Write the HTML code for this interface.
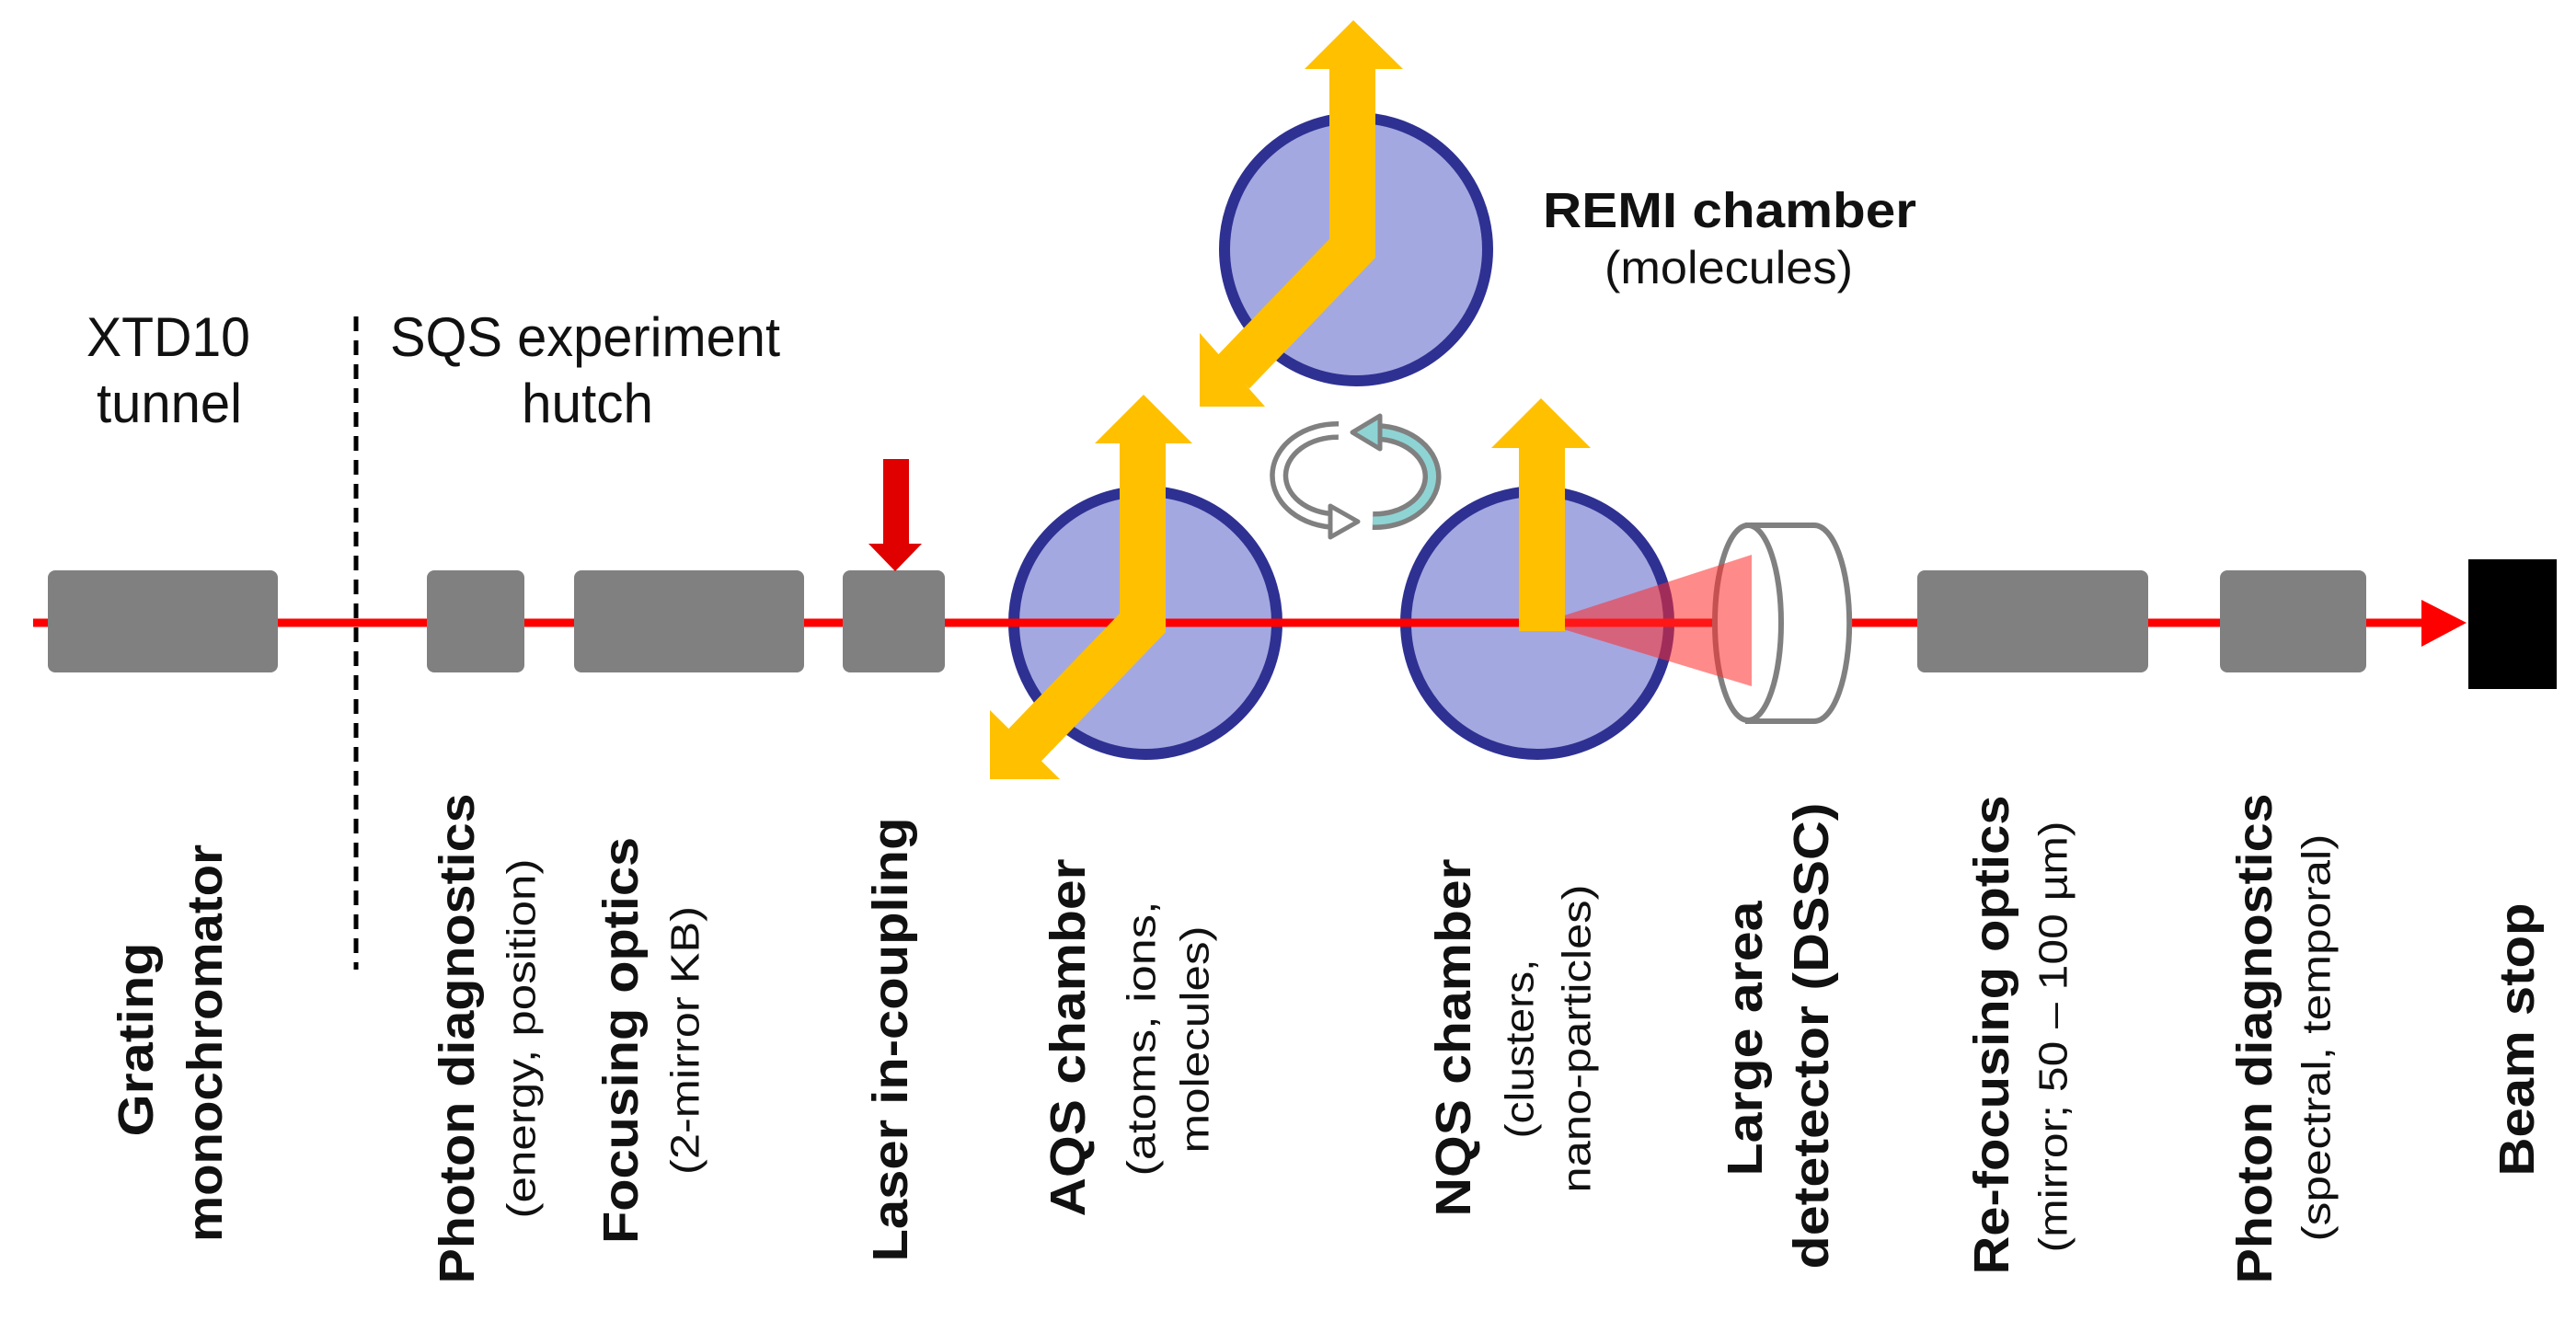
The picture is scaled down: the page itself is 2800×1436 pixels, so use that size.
<!DOCTYPE html>
<html><head><meta charset="utf-8"><style>
html,body{margin:0;padding:0;background:#fff;}
svg{display:block;}
text{font-family:"Liberation Sans",Arial,sans-serif;fill:#111;}
.b{font-weight:bold;font-size:54px;}
.r{font-size:44px;}
</style></head><body>
<svg width="2800" height="1436" viewBox="0 0 2800 1436" xmlns="http://www.w3.org/2000/svg">
<text x="94" y="387" font-size="60" textLength="178" lengthAdjust="spacingAndGlyphs">XTD10</text>
<text x="105" y="459" font-size="60" textLength="158" lengthAdjust="spacingAndGlyphs">tunnel</text>
<text x="424" y="387" font-size="60" textLength="424" lengthAdjust="spacingAndGlyphs">SQS experiment</text>
<text x="567" y="459" font-size="60" textLength="143" lengthAdjust="spacingAndGlyphs">hutch</text>
<text x="1677" y="247" font-size="54" font-weight="bold" textLength="406" lengthAdjust="spacingAndGlyphs">REMI chamber</text>
<text x="1744" y="308" font-size="50" textLength="270" lengthAdjust="spacingAndGlyphs">(molecules)</text>

<line x1="387" y1="344" x2="387" y2="1054" stroke="#000" stroke-width="5" stroke-dasharray="16 10"/>

<circle cx="1245" cy="677" r="143" fill="#a4a8e0" stroke="#2e3192" stroke-width="12"/>
<circle cx="1671" cy="677" r="143" fill="#a4a8e0" stroke="#2e3192" stroke-width="12"/>
<circle cx="1474" cy="271" r="143" fill="#a4a8e0" stroke="#2e3192" stroke-width="12"/>

<line x1="36" y1="677" x2="1866" y2="677" stroke="#ff0000" stroke-width="9"/>
<line x1="2010" y1="677" x2="2640" y2="677" stroke="#ff0000" stroke-width="9"/>
<polygon points="2632,652 2681,677 2632,703" fill="#ff0000"/>
<rect x="2683" y="608" width="96" height="141" fill="#000"/>

<g fill="#808080">
<rect x="52" y="620" width="250" height="111" rx="8"/>
<rect x="464" y="620" width="106" height="111" rx="8"/>
<rect x="624" y="620" width="250" height="111" rx="8"/>
<rect x="916" y="620" width="111" height="111" rx="8"/>
<rect x="2084" y="620" width="251" height="111" rx="8"/>
<rect x="2413" y="620" width="159" height="111" rx="8"/>
</g>

<rect x="960" y="499" width="28" height="95" fill="#e00000"/>
<polygon points="944,591 1002,591 973,621" fill="#e00000"/>

<path d="M1900,571 L1972,571 A38,106 0 0 1 1972,784 L1900,784 Z" fill="#fff" stroke="#808080" stroke-width="6"/>
<ellipse cx="1900" cy="677" rx="36" ry="106" fill="#fff" stroke="#808080" stroke-width="6"/>

<polygon points="1676,677 1904,603 1904,746" fill="#ff2a2a" fill-opacity="0.55"/>

<g fill="none" stroke="#ffc000" stroke-width="50" stroke-linejoin="miter">
<polyline points="1242,480 1242,677 1112,812"/>
<polyline points="1470,72 1470,270 1340,405"/>
<line x1="1676" y1="485" x2="1676" y2="686"/>
</g>
<g fill="#ffc000">
<polygon points="1190,482 1296,482 1243,429"/>
<polygon points="1076,772 1076,847 1152,847"/>
<polygon points="1418,75 1525,75 1471,22"/>
<polygon points="1304,362 1304,442 1375,442"/>
<polygon points="1621,487 1729,487 1675,433"/>
</g>

<g stroke-linejoin="round">
<path d="M1455,468 A62,48 0 0 0 1452,566" fill="none" stroke="#808080" stroke-width="20"/>
<path d="M1455,468 A62,48 0 0 0 1452,566" fill="none" stroke="#ffffff" stroke-width="9"/>
<polygon points="1446,550 1446,584 1476,567" fill="#fff" stroke="#808080" stroke-width="5"/>
<path d="M1492,566 A62,48 0 0 0 1497,470" fill="none" stroke="#808080" stroke-width="20"/>
<path d="M1492,566 A62,48 0 0 0 1497,470" fill="none" stroke="#8fd4d4" stroke-width="9"/>
<polygon points="1500,452 1500,488 1470,470" fill="#8fd4d4" stroke="#808080" stroke-width="5"/>
</g>

<g dominant-baseline="central" text-anchor="middle">
<text class="b" transform="translate(148,1130) rotate(-90)" textLength="211" lengthAdjust="spacingAndGlyphs">Grating</text>
<text class="b" transform="translate(223,1134) rotate(-90)" textLength="432" lengthAdjust="spacingAndGlyphs">monochromator</text>
<text class="b" transform="translate(497,1129) rotate(-90)" textLength="533" lengthAdjust="spacingAndGlyphs">Photon diagnostics</text>
<text class="r" transform="translate(567,1129) rotate(-90)" textLength="391" lengthAdjust="spacingAndGlyphs">(energy, position)</text>
<text class="b" transform="translate(675,1131) rotate(-90)" textLength="442" lengthAdjust="spacingAndGlyphs">Focusing optics</text>
<text class="r" transform="translate(745,1131) rotate(-90)" textLength="292" lengthAdjust="spacingAndGlyphs">(2-mirror KB)</text>
<text class="b" transform="translate(968,1130) rotate(-90)" textLength="483" lengthAdjust="spacingAndGlyphs">Laser in-coupling</text>
<text class="b" transform="translate(1161,1128) rotate(-90)" textLength="389" lengthAdjust="spacingAndGlyphs">AQS chamber</text>
<text class="r" transform="translate(1241,1129) rotate(-90)" textLength="299" lengthAdjust="spacingAndGlyphs">(atoms, ions,</text>
<text class="r" transform="translate(1299,1130) rotate(-90)" textLength="247" lengthAdjust="spacingAndGlyphs">molecules)</text>
<text class="b" transform="translate(1580,1128) rotate(-90)" textLength="389" lengthAdjust="spacingAndGlyphs">NQS chamber</text>
<text class="r" transform="translate(1652,1140) rotate(-90)" textLength="195" lengthAdjust="spacingAndGlyphs">(clusters,</text>
<text class="r" transform="translate(1714,1129) rotate(-90)" textLength="335" lengthAdjust="spacingAndGlyphs">nano-particles)</text>
<text class="b" transform="translate(1897,1129) rotate(-90)" textLength="299" lengthAdjust="spacingAndGlyphs">Large area</text>
<text class="b" transform="translate(1969,1126) rotate(-90)" textLength="507" lengthAdjust="spacingAndGlyphs">detetector (DSSC)</text>
<text class="b" transform="translate(2165,1125) rotate(-90)" textLength="521" lengthAdjust="spacingAndGlyphs">Re-focusing optics</text>
<text class="r" transform="translate(2232,1127) rotate(-90)" textLength="469" lengthAdjust="spacingAndGlyphs">(mirror; 50 – 100 µm)</text>
<text class="b" transform="translate(2451,1129) rotate(-90)" textLength="533" lengthAdjust="spacingAndGlyphs">Photon diagnostics</text>
<text class="r" transform="translate(2518,1128) rotate(-90)" textLength="443" lengthAdjust="spacingAndGlyphs">(spectral, temporal)</text>
<text class="b" transform="translate(2736,1130) rotate(-90)" textLength="297" lengthAdjust="spacingAndGlyphs">Beam stop</text>
</g>
</svg>
</body></html>
